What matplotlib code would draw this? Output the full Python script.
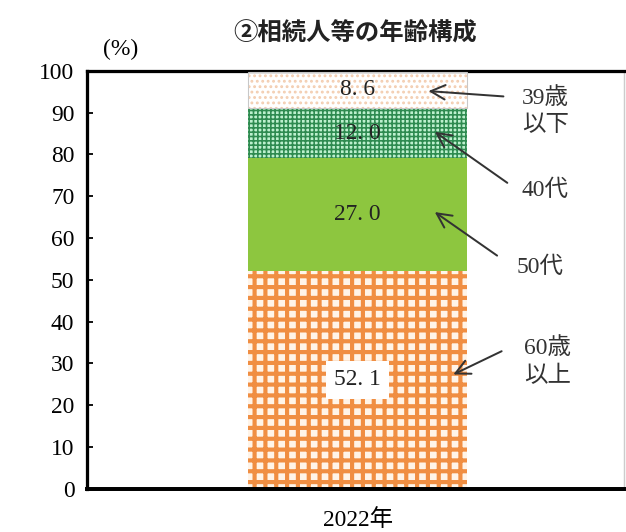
import matplotlib

matplotlib.use("Agg")
import matplotlib.pyplot as plt

# data (percent, bottom to top)
years = ["2022年"]
groups = ["60歳\n以上", "50代", "40代", "39歳\n以下"]
shares = [52.1, 27.0, 12.0, 8.6]
value_labels = ["52. 1", "27. 0", "12. 0", "8. 6"]

# segment styling, same order as groups
faces = ["#FFF4E8", "#8DC63F", "#BDF0CE", "white"]
hatches = ["++", None, "+++++", "...."]
hatch_colors = ["#F08E42", "#8DC63F", "#2E8B50", "#F3CDB0"]
hatch_widths = [2.3, 1.0, 0.9, 1.0]

# label / arrow placement (data coords, bar centred at x=0)
label_xy = [(0.354, 30.4), (0.340, 52.9), (0.349, 71.5), (0.349, 90.2)]
arrow_from = [(0.274, 33.3), (0.265, 55.3), (0.284, 72.7), (0.278, 93.8)]
arrow_to = [(0.172, 27.0), (0.138, 66.7), (0.138, 85.9), (0.125, 95.2)]

SERIF = ["Liberation Serif", "Noto Sans CJK JP"]
JP = ["Noto Sans CJK JP", "DejaVu Sans"]

DPI = 130
fig = plt.figure(figsize=(626 / DPI, 532 / DPI), dpi=DPI)
ax = fig.add_axes([0.139, 0.081, 0.858, 0.786])

bar_w = 0.408
bottom = 0.0
for i, val in enumerate(shares):
    bars = ax.bar(
        [0], [val], bottom=bottom, width=bar_w,
        color=faces[i], edgecolor=hatch_colors[i], linewidth=0,
        hatch=hatches[i], zorder=2,
    )
    for p in bars:
        if hasattr(p, "set_hatch_linewidth"):
            p.set_hatch_linewidth(hatch_widths[i])
    mid = bottom + val / 2
    box = None
    if i == 0:
        box = dict(boxstyle="square,pad=0.35", facecolor="white", edgecolor="none")
    ax.text(0, mid, value_labels[i], ha="center", va="center",
            fontsize=13, family=SERIF, color="#222222", bbox=box, zorder=4)
    bottom += val

# thin outline round the top segment
ax.bar([0], [shares[3]], bottom=sum(shares[:3]), width=bar_w, fill=False,
       edgecolor="#C8C8C8", linewidth=0.6, zorder=3)

# side labels with arrows
for i, name in enumerate(groups):
    ax.text(*label_xy[i], name, ha="center", va="center", fontsize=13,
            family=SERIF, color="#333333", linespacing=1.4, zorder=4)
    ax.annotate("", xy=arrow_to[i], xytext=arrow_from[i],
                arrowprops=dict(arrowstyle="->,head_length=0.8,head_width=0.4",
                                lw=1.1, color="#333333"), zorder=5)

ax.set_xlim(-0.504, 0.496)
ax.set_ylim(0, 100)
ax.set_yticks(range(0, 101, 10))
ax.set_xticks([0])
ax.set_xticklabels(years, family=SERIF, fontsize=13)
for lab in ax.get_yticklabels():
    lab.set_family(SERIF)
    lab.set_fontsize(13)
ax.tick_params(axis="y", direction="in", length=3.5, width=1, pad=7)
ax.tick_params(axis="x", length=0, pad=11)

for side in ["left", "top"]:
    ax.spines[side].set_linewidth(1.8)
ax.spines["bottom"].set_linewidth(2.2)
ax.spines["right"].set_linewidth(0.8)
ax.spines["right"].set_color("#CCCCCC")

ax.text(0.062, 1.05, "(%)", transform=ax.transAxes, ha="center", va="center",
        fontsize=13, family=SERIF)
ax.set_title("②相続人等の年齢構成", fontsize=13.5, fontweight="bold",
             family=JP, pad=17, color="#222222")

fig.savefig("out.png", dpi=DPI)
